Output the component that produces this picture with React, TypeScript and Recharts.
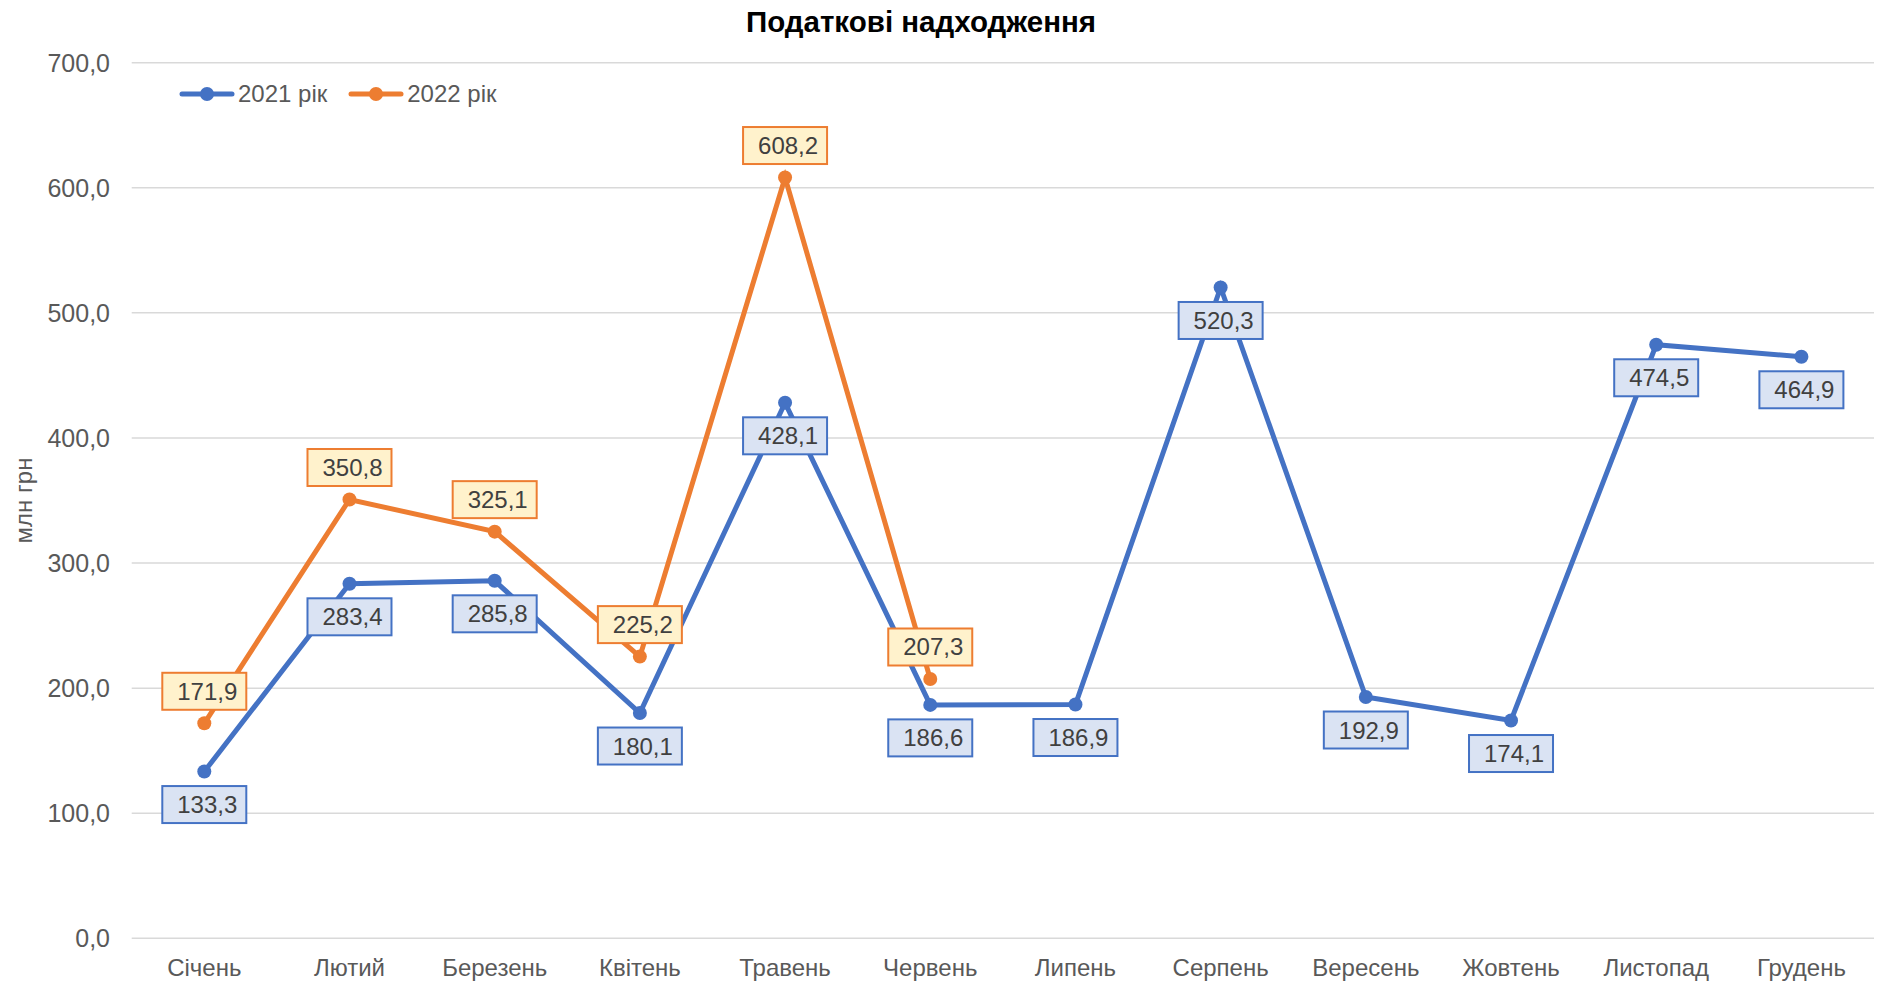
import React from 'react';
import { LineChart, Line, XAxis, YAxis, CartesianGrid, Legend, LabelList } from 'recharts';

const months = ['Січень', 'Лютий', 'Березень', 'Квітень', 'Травень', 'Червень', 'Липень', 'Серпень', 'Вересень', 'Жовтень', 'Листопад', 'Грудень'];
const values2021 = [133.3, 283.4, 285.8, 180.1, 428.1, 186.6, 186.9, 520.3, 192.9, 174.1, 474.5, 464.9];
const values2022: (number | null)[] = [171.9, 350.8, 325.1, 225.2, 608.2, 207.3, null, null, null, null, null, null];
const yTicks = [0, 100, 200, 300, 400, 500, 600, 700];
const seriesNames = ['2021 рік', '2022 рік'];
const titleText = 'Податкові надходження';
const yAxisTitle = 'млн грн';

const data = months.map((m, i) => ({ month: m, y2021: values2021[i], y2022: values2022[i] }));

const FONT = '"Liberation Sans", Arial, sans-serif';
const BLUE = '#4472C4';
const ORANGE = '#ED7D31';

const fmt = (v: number) => Number(v).toFixed(1).replace('.', ',');

const makeLabel = (fill: string, stroke: string, below: boolean) => (props: any) => {
  const { x, y, value } = props;
  if (value == null || x == null || y == null) return null;
  const w = 84;
  const h = 37;
  const cy = below ? y + 33 : y - 32;
  return (
    <g>
      <rect x={x - w / 2} y={cy - h / 2} width={w} height={h} fill={fill} stroke={stroke} strokeWidth={2} />
      <text x={x + 3} y={cy} textAnchor="middle" dominantBaseline="central" fontSize={24} fill="#404040" fontFamily={FONT}>
        {fmt(value)}
      </text>
    </g>
  );
};

const LegendContent = () => {
  const items = [
    { name: seriesNames[0], color: BLUE },
    { name: seriesNames[1], color: ORANGE },
  ];
  return (
    <div style={{ display: 'flex', alignItems: 'center', fontFamily: FONT, fontSize: 24, color: '#595959', whiteSpace: 'nowrap', height: 30 }}>
      {items.map((it, i) => (
        <div key={it.name} style={{ display: 'flex', alignItems: 'center', marginRight: i === 0 ? 21 : 0 }}>
          <svg width={56} height={20} style={{ display: 'block' }}>
            <line x1={3} y1={10} x2={53} y2={10} stroke={it.color} strokeWidth={5} strokeLinecap="round" />
            <circle cx={28} cy={10} r={7} fill={it.color} />
          </svg>
          <span style={{ marginLeft: 3 }}>{it.name}</span>
        </div>
      ))}
    </div>
  );
};

const YLabel = (props: any) => {
  const vb = props.viewBox || {};
  const cy = (vb.y || 0) + (vb.height || 0) / 2;
  const cx = 23;
  return (
    <text x={cx} y={cy} transform={`rotate(-90, ${cx}, ${cy})`} textAnchor="middle" dominantBaseline="central" fontSize={24} fill="#595959" fontFamily={FONT}>
      {yAxisTitle}
    </text>
  );
};

export default function App() {
  const tickStyle = { fontSize: 24, fill: '#595959', fontFamily: FONT };
  const yTickStyle = { fontSize: 25, fill: '#595959', fontFamily: FONT };
  return (
    <div style={{ position: 'absolute', left: 0, top: 0, width: 1885, height: 984, background: '#fff' }}>
      <div style={{ position: 'absolute', left: 0, top: 5, width: 1842, textAlign: 'center', fontFamily: FONT, fontWeight: 'bold', fontSize: 29.5, color: '#000', lineHeight: '34px' }}>
        {titleText}
      </div>
      <LineChart width={1885} height={984} data={data} margin={{ top: 62.7, right: 11, bottom: 0, left: 0 }}>
        <CartesianGrid vertical={false} stroke="#D9D9D9" strokeWidth={1.5} />
        <XAxis
          dataKey="month"
          axisLine={false}
          tickLine={false}
          tickSize={0}
          tickMargin={21}
          height={45.7}
          interval={0}
          padding={{ left: 72.6, right: 72.6 }}
          tick={tickStyle}
        />
        <YAxis
          domain={[0, 700]}
          ticks={yTicks}
          tickFormatter={fmt}
          axisLine={false}
          tickLine={false}
          tickSize={0}
          tickMargin={21.7}
          width={131.7}
          tick={yTickStyle}
          label={<YLabel />}
        />
        <Legend layout="vertical" align="center" verticalAlign="middle" wrapperStyle={{ top: 79, left: 179, width: 'auto', height: 30 }} content={<LegendContent />} />
        <Line
          type="linear"
          dataKey="y2021"
          name={seriesNames[0]}
          stroke={BLUE}
          strokeWidth={5}
          dot={{ r: 7, fill: BLUE, stroke: BLUE, strokeWidth: 0 }}
          isAnimationActive={false}
        >
          <LabelList dataKey="y2021" content={makeLabel('#DAE3F3', BLUE, true)} />
        </Line>
        <Line
          type="linear"
          dataKey="y2022"
          name={seriesNames[1]}
          stroke={ORANGE}
          strokeWidth={5}
          dot={{ r: 7, fill: ORANGE, stroke: ORANGE, strokeWidth: 0 }}
          isAnimationActive={false}
        >
          <LabelList dataKey="y2022" content={makeLabel('#FFF2CC', ORANGE, false)} />
        </Line>
      </LineChart>
    </div>
  );
}
